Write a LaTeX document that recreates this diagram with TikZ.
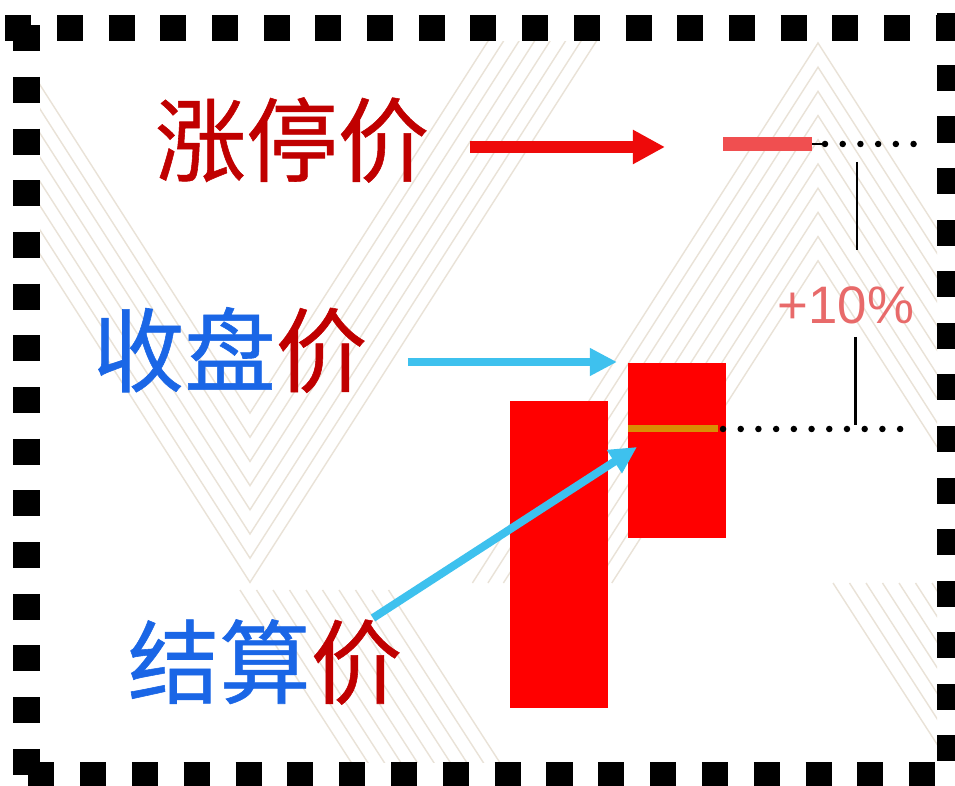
\documentclass[tikz,border=0pt]{standalone}
\usepackage{fontspec}
\newfontfamily\cjk[FakeBold=0.6]{Noto Sans CJK SC}
\setsansfont{Liberation Sans}
\usepackage{tikz}
\usetikzlibrary{arrows.meta,positioning}

\definecolor{limitred}{HTML}{C00000}
\definecolor{closeblue}{HTML}{1A66E6}
\definecolor{arrowred}{HTML}{EE0A0A}
\definecolor{skyblue}{HTML}{3EC1EE}
\definecolor{candlered}{HTML}{FF0000}
\definecolor{limitbar}{HTML}{F04F50}
\definecolor{pctred}{HTML}{E86A6A}
\definecolor{settleorange}{HTML}{D98E04}
\definecolor{bgline}{HTML}{E9E2D7}

\begin{document}
\begin{tikzpicture}[x=0.01cm,y=-0.01cm,
  pricelabel/.style={font=\cjk\fontsize{26}{26}\selectfont, inner sep=0pt},
  pctlabel/.style={font=\sffamily\fontsize{15}{15}\selectfont, text=pctred, inner sep=0pt},
  redarrow/.style={draw=arrowred, line width=0.12cm, -{Triangle[length=0.32cm,width=0.32cm]}},
  bluearrow/.style={draw=skyblue, line width=0.08cm, -{Triangle[length=0.27cm,width=0.26cm]}},
  dotrow/.style={line width=0.065cm, line cap=round, dash pattern=on 0pt off 0.177cm},
  frameside/.style={line width=0.26cm, dash pattern=on 0.26cm off #1},
  chevron/.style={draw=bgline, line width=0.4pt}]

% Page and frame
\useasboundingbox (0,0) rectangle (955,786);
\fill[white] (0,0) rectangle (955,786);

% Background chevrons
\begin{scope}
\clip (40,42) rectangle (937,762);
\foreach \k in {0,...,7}{
  \pgfmathsetmacro\ay{413+24.2*\k}
  \draw[chevron] ({250-0.64*(\ay-20)},20) -- (250,\ay) -- ({250+0.64*(\ay-20)},20);
}
\foreach \k in {0,...,9}{
  \pgfmathsetmacro\by{43+24.2*\k}
  \draw[chevron] ({818-0.64*(583-\by)},583) -- (818,\by) -- ({818+0.64*(583-\by)},583);
}
\foreach \k in {0,...,9}{
  \draw[chevron] ({240+16.5*\k},590) -- ++(120,186);
  \draw[chevron] ({833+16.5*\k},583) -- ++(120,186);
}
\end{scope}

% Square-dotted border, one side at a time
\draw[frameside=0.2565cm] (5.35,28.5) -- (970,28.5);
\draw[frameside=0.2565cm] (26.5,25.3) -- (26.5,790);
\draw[frameside=0.2555cm] (950,13.35) -- (950,790);
\draw[frameside=0.258cm] (28.2,775) -- (970,775);

% Candles
\fill[candlered] (510,401) rectangle (608,708);
\fill[candlered] (628,363) rectangle (726,538);

% Settlement and limit levels
\coordinate (settleL) at (628,429);
\coordinate (settleR) at (718,429);
\draw[settleorange, line width=0.07cm] (settleL) -- (settleR);
\fill[limitbar] (723,137) rectangle (812,151);

% Dotted guides
\coordinate (limA) at (812,144);
\coordinate (limB) at (825,144);
\coordinate (limC) at (914,144);
\draw[line width=0.6pt] (limA) -- (limB);
\draw[dotrow] (limB) -- (limC);
\coordinate (setA) at (723,429);
\coordinate (setB) at (901,429);
\draw[dotrow] (setA) -- (setB);

% Labels
\node[pricelabel, text=limitred] (zt) at (292,140) {涨停价};
\node[pricelabel] (sp) at (230,350) {\textcolor{closeblue}{收盘}\textcolor{limitred}{价}};
\node[pricelabel] (js) at (265,662) {\textcolor{closeblue}{结算}\textcolor{limitred}{价}};
\node[pctlabel] (pct) at (846,305) {+10\%};

% Span of the move
\coordinate (dimA) at (857,162);
\coordinate (dimB) at (857,250);
\coordinate (dimC) at (855.5,337);
\coordinate (dimD) at (855.5,425);
\draw[line width=0.6pt] (dimA) -- (dimB);
\draw[line width=0.6pt] (dimC) -- (dimD);

% Arrows
\coordinate (ztHead) at (665,147);
\coordinate (spHead) at (617,362);
\coordinate (jsTail) at (373,618);
\coordinate (jsHead) at (637,447);
\draw[redarrow] (zt.east) ++(40,7) -- (ztHead);
\draw[bluearrow] (sp.east) ++(40,12) -- (spHead);
\draw[bluearrow] (jsTail) -- (jsHead);
\end{tikzpicture}
\end{document}
